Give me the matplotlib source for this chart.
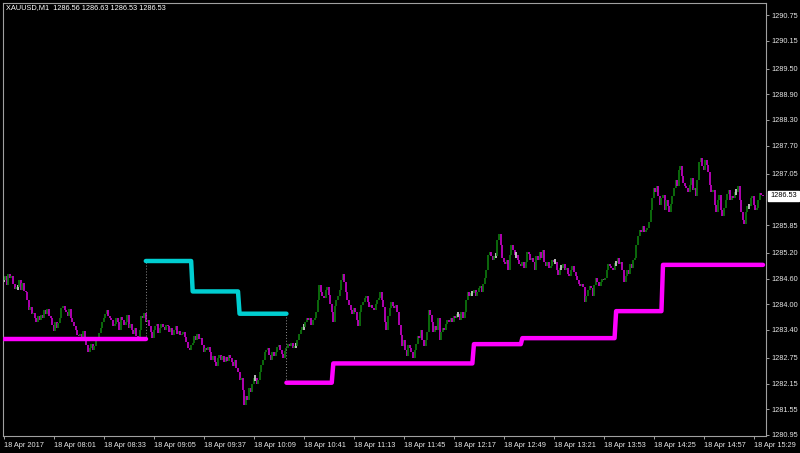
import matplotlib
matplotlib.use("Agg")
import matplotlib.pyplot as plt
from matplotlib.collections import LineCollection

plt.rcParams['font.family'] = ['Liberation Sans', 'DejaVu Sans']

title_text = "XAUUSD,M1  1286.56 1286.63 1286.53 1286.53"
last_price = 1286.53

# M1 closes, bar 0 = 18 Apr 07:29
closes = [
    1284.57, 1284.66, 1284.45, 1284.71, 1284.61, 1284.66, 1284.47, 1284.36, 1284.40, 1284.40, 1284.57, 1284.33, 1284.50, 1284.31,
    1284.29, 1284.10, 1283.87, 1283.94, 1283.77, 1283.80, 1283.68, 1283.59, 1283.73, 1283.63, 1283.75, 1283.68, 1283.87, 1283.77, 1283.89, 1283.73,
    1283.68, 1283.52, 1283.38, 1283.59, 1283.45, 1283.56, 1283.68, 1283.91, 1283.96, 1283.87, 1283.82, 1283.73, 1283.89, 1283.68, 1283.59, 1283.49,
    1283.40, 1283.28, 1283.26, 1283.31, 1283.21, 1283.38, 1283.17, 1283.05, 1282.89, 1282.98, 1283.07, 1282.93, 1283.03, 1283.14, 1283.21, 1283.33,
    1283.45, 1283.59, 1283.68, 1283.77, 1283.87, 1283.73, 1283.68, 1283.63, 1283.49, 1283.54, 1283.68, 1283.59, 1283.40, 1283.70, 1283.63, 1283.52,
    1283.59, 1283.75, 1283.45, 1283.54, 1283.40, 1283.31, 1283.45, 1283.26, 1283.21, 1283.40, 1283.73, 1283.68, 1283.80, 1283.59, 1283.63, 1283.49,
    1283.35, 1283.21, 1283.40, 1283.49, 1283.54, 1283.33, 1283.45, 1283.54, 1283.47, 1283.40, 1283.52, 1283.49, 1283.35, 1283.45, 1283.28, 1283.40,
    1283.49, 1283.31, 1283.38, 1283.28, 1283.31, 1283.35, 1283.24, 1283.12, 1282.98, 1282.93, 1283.05, 1283.10, 1283.26, 1283.17, 1283.31, 1283.19,
    1283.21, 1283.05, 1282.89, 1282.98, 1282.93, 1283.00, 1282.89, 1282.70, 1282.79, 1282.65, 1282.56, 1282.75, 1282.82, 1282.70, 1282.79, 1282.65,
    1282.77, 1282.68, 1282.82, 1282.75, 1282.65, 1282.56, 1282.70, 1282.51, 1282.42, 1282.23, 1282.28, 1282.00, 1281.65, 1281.86, 1281.77, 1282.05,
    1281.95, 1282.14, 1282.28, 1282.28, 1282.14, 1282.23, 1282.42, 1282.58, 1282.70, 1282.89, 1282.93, 1282.98, 1282.82, 1282.70, 1282.89, 1282.79,
    1282.89, 1283.00, 1283.05, 1282.93, 1282.84, 1282.75, 1282.91, 1282.98, 1283.07, 1283.03, 1283.10, 1282.98, 1283.03, 1283.03, 1283.17, 1283.31,
    1283.40, 1283.47, 1283.47, 1283.59, 1283.68, 1283.63, 1283.68, 1283.52, 1283.63, 1283.68, 1283.82, 1284.10, 1284.45, 1284.29, 1284.19, 1284.15,
    1284.33, 1284.40, 1284.22, 1284.01, 1283.82, 1283.59, 1283.96, 1284.10, 1284.19, 1284.33, 1284.57, 1284.71, 1284.52, 1284.29, 1284.10, 1283.98,
    1283.87, 1283.77, 1283.91, 1283.82, 1283.63, 1283.49, 1283.82, 1283.98, 1284.05, 1284.15, 1284.19, 1284.05, 1283.94, 1283.98, 1283.91, 1283.87,
    1284.01, 1284.10, 1284.15, 1284.29, 1284.10, 1283.94, 1283.59, 1283.40, 1283.73, 1283.91, 1284.05, 1283.96, 1283.91, 1283.98, 1283.82, 1283.52,
    1283.28, 1283.03, 1283.17, 1282.93, 1282.79, 1283.05, 1282.98, 1282.89, 1282.75, 1282.93, 1283.07, 1283.26, 1283.21, 1283.40, 1283.17, 1283.03,
    1283.17, 1283.35, 1283.87, 1283.75, 1283.59, 1283.35, 1283.49, 1283.40, 1283.68, 1283.17, 1283.35, 1283.45, 1283.40, 1283.54, 1283.63, 1283.59,
    1283.68, 1283.59, 1283.73, 1283.68, 1283.77, 1283.77, 1283.63, 1283.82, 1283.68, 1283.82, 1284.10, 1284.29, 1284.19, 1284.26, 1284.26, 1284.33,
    1284.19, 1284.29, 1284.38, 1284.43, 1284.29, 1284.47, 1284.61, 1284.80, 1285.15, 1285.22, 1285.13, 1285.03, 1285.13, 1285.13, 1285.50, 1285.64,
    1285.38, 1285.08, 1284.99, 1284.94, 1285.03, 1284.80, 1285.15, 1285.38, 1285.27, 1285.15, 1285.15, 1285.03, 1284.94, 1284.89, 1284.99, 1284.85,
    1284.99, 1285.22, 1285.17, 1285.03, 1285.08, 1284.99, 1284.80, 1285.13, 1285.03, 1285.22, 1285.08, 1285.27, 1284.99, 1284.89, 1284.99, 1284.85,
    1284.89, 1285.03, 1284.99, 1284.99, 1284.80, 1284.68, 1284.85, 1284.85, 1284.94, 1284.80, 1284.85, 1284.71, 1284.66, 1284.80, 1284.89, 1284.75,
    1284.66, 1284.57, 1284.47, 1284.43, 1284.47, 1284.40, 1284.05, 1284.19, 1284.33, 1284.43, 1284.38, 1284.19, 1284.45, 1284.61, 1284.52, 1284.43,
    1284.52, 1284.59, 1284.57, 1284.61, 1284.80, 1284.94, 1284.89, 1284.85, 1284.80, 1284.96, 1284.96, 1285.08, 1284.94, 1284.99, 1284.80, 1284.52,
    1284.66, 1284.80, 1284.71, 1284.94, 1284.85, 1285.03, 1285.08, 1285.38, 1285.59, 1285.73, 1285.69, 1285.83, 1285.69, 1285.73, 1285.78, 1285.92,
    1286.20, 1286.48, 1286.71, 1286.62, 1286.76, 1286.53, 1286.32, 1286.48, 1286.55, 1286.20, 1286.43, 1286.29, 1286.15, 1286.34, 1286.53, 1286.71,
    1286.90, 1286.76, 1287.13, 1287.23, 1286.99, 1286.83, 1286.76, 1286.71, 1286.62, 1286.78, 1286.95, 1286.67, 1286.71, 1286.53, 1286.90, 1287.32,
    1287.41, 1287.23, 1287.13, 1287.37, 1287.25, 1287.09, 1286.78, 1286.62, 1286.67, 1286.32, 1286.15, 1286.43, 1286.55, 1286.20, 1286.06, 1286.25,
    1286.43, 1286.57, 1286.67, 1286.43, 1286.53, 1286.48, 1286.62, 1286.62, 1286.76, 1286.43, 1286.15, 1285.97, 1285.87, 1286.15, 1286.29, 1286.29,
    1286.48, 1286.53, 1286.32, 1286.20, 1286.25, 1286.43, 1286.60, 1286.56, 1286.53,
]

# indicator step levels: (first bar, last bar, level)
magenta_steps_a = [(0, 91, 1283.19)]
magenta_steps_b = [(181, 210, 1282.17), (211, 300, 1282.62), (301, 331, 1283.07),
                   (332, 391, 1283.21), (392, 421, 1283.84), (422, 486, 1284.92)]
cyan_steps = [(91, 120, 1285.01), (121, 150, 1284.30), (151, 181, 1283.78)]

# price scale (1286.45 is hidden behind the current-price label)
y_ticks = [1290.75, 1290.15, 1289.50, 1288.90, 1288.30, 1287.70, 1287.05,
           1285.85, 1285.20, 1284.60, 1284.00, 1283.40, 1282.75, 1282.15, 1281.55, 1280.95]
x_tick_bars = [0, 32, 64, 96, 128, 160, 192, 224, 256, 288, 320, 352, 384, 416, 448, 480]
x_tick_labels = ["18 Apr 2017", "18 Apr 08:01", "18 Apr 08:33", "18 Apr 09:05", "18 Apr 09:37",
                 "18 Apr 10:09", "18 Apr 10:41", "18 Apr 11:13", "18 Apr 11:45", "18 Apr 12:17",
                 "18 Apr 12:49", "18 Apr 13:21", "18 Apr 13:53", "18 Apr 14:25", "18 Apr 14:57",
                 "18 Apr 15:29"]

W, H = 800, 453
fig = plt.figure(figsize=(W / 100, H / 100), dpi=100, facecolor='black')
ax = fig.add_axes([3 / W, (H - 436) / H, (766 - 3) / W, (436 - 3) / H])
ax.set_facecolor('black')

# candles
bull, bear, doji = '#0d730d', '#bf00bf', '#c8c8c8'
segs, cols = [], []
for i, c in enumerate(closes):
    o = closes[i - 1] if i > 0 else c
    if c > o:
        segs.append([(i, o), (i, c)]); cols.append(bull)
    elif c < o:
        segs.append([(i, o), (i, c)]); cols.append(bear)
    else:
        segs.append([(i, c - 0.06), (i, c + 0.06)]); cols.append(doji)
ax.add_collection(LineCollection(segs, colors=cols, linewidths=1.3, zorder=2))


def step_xy(steps):
    xs, ys = [], []
    for a, b, v in steps:
        xs += [a, b]
        ys += [v, v]
    return xs, ys


for steps, color in [(magenta_steps_a, '#ff00ff'), (magenta_steps_b, '#ff00ff'), (cyan_steps, '#00ced1')]:
    xs, ys = step_xy(steps)
    ax.plot(xs, ys, color=color, lw=3.2, solid_capstyle='round', solid_joinstyle='round', zorder=4)

# dotted connectors
ax.plot([magenta_steps_a[-1][1]] * 2, [magenta_steps_a[-1][2], cyan_steps[0][2]],
        color='#909090', lw=0.7, ls=(0, (1, 2)), zorder=3)
ax.plot([cyan_steps[-1][1]] * 2, [cyan_steps[-1][2], magenta_steps_b[0][2]],
        color='#909090', lw=0.7, ls=(0, (1, 2)), zorder=3)

ax.set_xlim(-0.4, -0.4 + 763 / 1.5625)
ax.set_ylim(1291.10 - 436 * 7 / 300, 1291.10 - 3 * 7 / 300)

for s in ax.spines.values():
    s.set_color('#a0a0a0')
    s.set_linewidth(0.8)

fs = 5.3
tc = '#e6e6e6'
ax.yaxis.tick_right()
ax.set_yticks(y_ticks)
ax.set_yticklabels([f"{v:.2f}" for v in y_ticks])
ax.tick_params(axis='y', direction='out', length=2.5, width=0.7, color='#a0a0a0',
               labelcolor=tc, labelsize=fs, pad=1.5)
ax.set_xticks(x_tick_bars)
ax.set_xticklabels(x_tick_labels, ha='left')
ax.tick_params(axis='x', direction='out', length=2.5, width=0.7, color='#a0a0a0',
               labelcolor=tc, labelsize=fs, pad=2)

# current price label
ax.annotate(f"{last_price:.2f}", xy=(1.0, last_price), xycoords=('axes fraction', 'data'),
            xytext=(3, 0), textcoords='offset points', ha='left', va='center',
            fontsize=fs, color='black', zorder=10, annotation_clip=False,
            bbox=dict(boxstyle='square,pad=0.25', fc='white', ec='white'))

fig.text(6 / W, 1 - 8 / H, title_text, color='white', fontsize=fs, ha='left', va='center')

fig.savefig('out.png', dpi=100, facecolor='black')
